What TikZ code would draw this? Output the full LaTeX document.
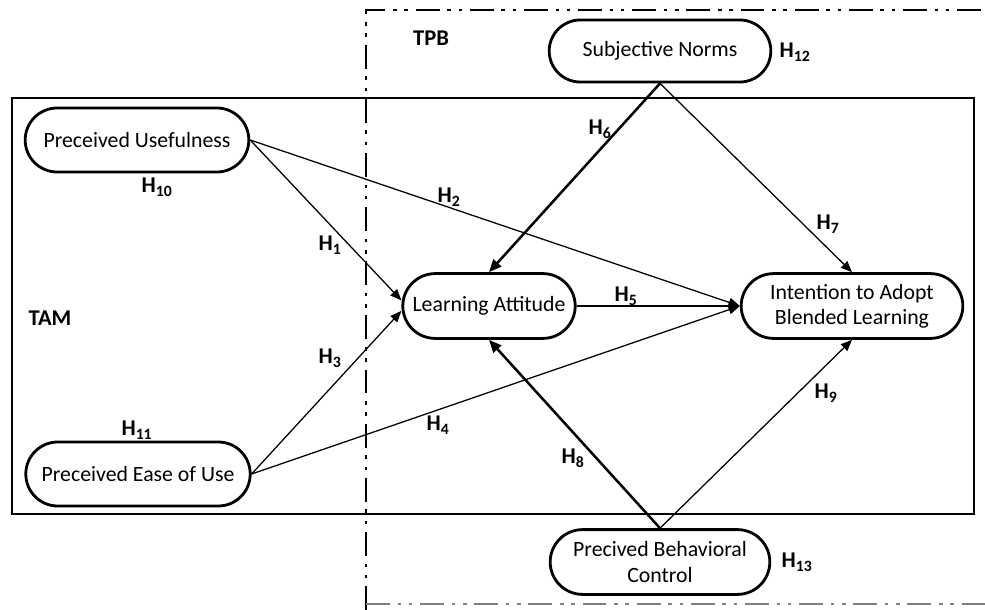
\documentclass[tikz,border=0pt]{standalone}
\usepackage{fontspec}
\setmainfont{Carlito}
\usetikzlibrary{shapes.misc,arrows.meta}

\tikzset{
  construct/.style={draw, line width=2pt, rounded rectangle, fill=white,
    align=center, inner sep=2pt, font=\fontsize{15.5}{18}\selectfont},
  thinpath/.style={line width=0.9pt, -{Triangle[length=8pt,width=6.5pt]}},
  thickpath/.style={line width=1.8pt, -{Triangle[length=9pt,width=7.5pt]}},
  hlabel/.style={inner sep=0pt, font=\fontsize{16}{18}\selectfont\bfseries},
  theoryline/.style={line width=2pt,
    dash pattern=on 17pt off 5.5pt on 2.5pt off 5.5pt on 2.5pt off 5.5pt},
}
\newcommand\hyp[1]{H\textsubscript{#1}}

\begin{document}
\begin{tikzpicture}[x=0.025cm, y=-0.025cm]
%define stuff
\def\figright{985}
\def\figbottom{610}
\def\tpbleft{366}
%set bounding box
\useasboundingbox (0,0) rectangle (\figright,\figbottom);
%TAM frame
\draw[line width=1.4pt] (12,98) rectangle (974,514);
\node[hlabel] (tam) at (50,318) {TAM};
%TPB frame
\draw[theoryline] (\tpbleft,\figbottom) -- (\tpbleft,10) -- (\figright,10);
\draw[theoryline, gray] (\tpbleft,604) -- (\figright,604);
\node[hlabel] (tpb) at (431,38) {TPB};
%Constructs
\node[construct, minimum width=5.73cm, minimum height=1.6cm] (PU) at (137,140) {Preceived Usefulness};
\node[construct, minimum width=5.75cm, minimum height=1.6cm] (PEOU) at (138,474) {Preceived Ease of Use};
\node[construct, minimum width=4.45cm, minimum height=1.62cm] (LA) at (489,306) {Learning Attitude};
\node[construct, minimum width=5.68cm, minimum height=1.62cm] (IA) at (852,306) {Intention to Adopt\\Blended Learning};
\node[construct, minimum width=5.68cm, minimum height=1.55cm] (SN) at (660,51) {Subjective Norms};
\node[construct, minimum width=5.63cm, minimum height=1.62cm] (PBC) at (660,562) {Precived Behavioral\\Control};
%Paths
\draw[thinpath] (PU.east) -- ([yshift=4pt]LA.west);
\draw[thinpath] (PU.east) -- (IA.west);
\draw[thinpath] (PEOU.east) -- ([yshift=-3.5pt]LA.west);
\draw[thinpath] (PEOU.east) -- (IA.west);
\draw[thinpath] (LA.east) -- (IA.west);
\draw[thickpath] (SN.south) -- (LA.north);
\draw[thinpath] (SN.south) -- (IA.north);
\draw[thickpath] (PBC.north) -- (LA.south);
\draw[thinpath] (PBC.north) -- (IA.south);
%Hypothesis labels
\node[hlabel] (h1) at (330,245) {\hyp{1}};
\node[hlabel] (h2) at (449,197) {\hyp{2}};
\node[hlabel] (h3) at (330,358) {\hyp{3}};
\node[hlabel] (h4) at (438,425) {\hyp{4}};
\node[hlabel] (h5) at (626,296) {\hyp{5}};
\node[hlabel] (h6) at (600,129) {\hyp{6}};
\node[hlabel] (h7) at (828,224) {\hyp{7}};
\node[hlabel] (h8) at (573,458) {\hyp{8}};
\node[hlabel] (h9) at (826,393) {\hyp{9}};
\node[hlabel] (h10) at (157,187) {\hyp{10}};
\node[hlabel] (h11) at (137,430) {\hyp{11}};
\node[hlabel] (h12) at (795,52) {\hyp{12}};
\node[hlabel] (h13) at (797,562) {\hyp{13}};
\end{tikzpicture}
\end{document}
